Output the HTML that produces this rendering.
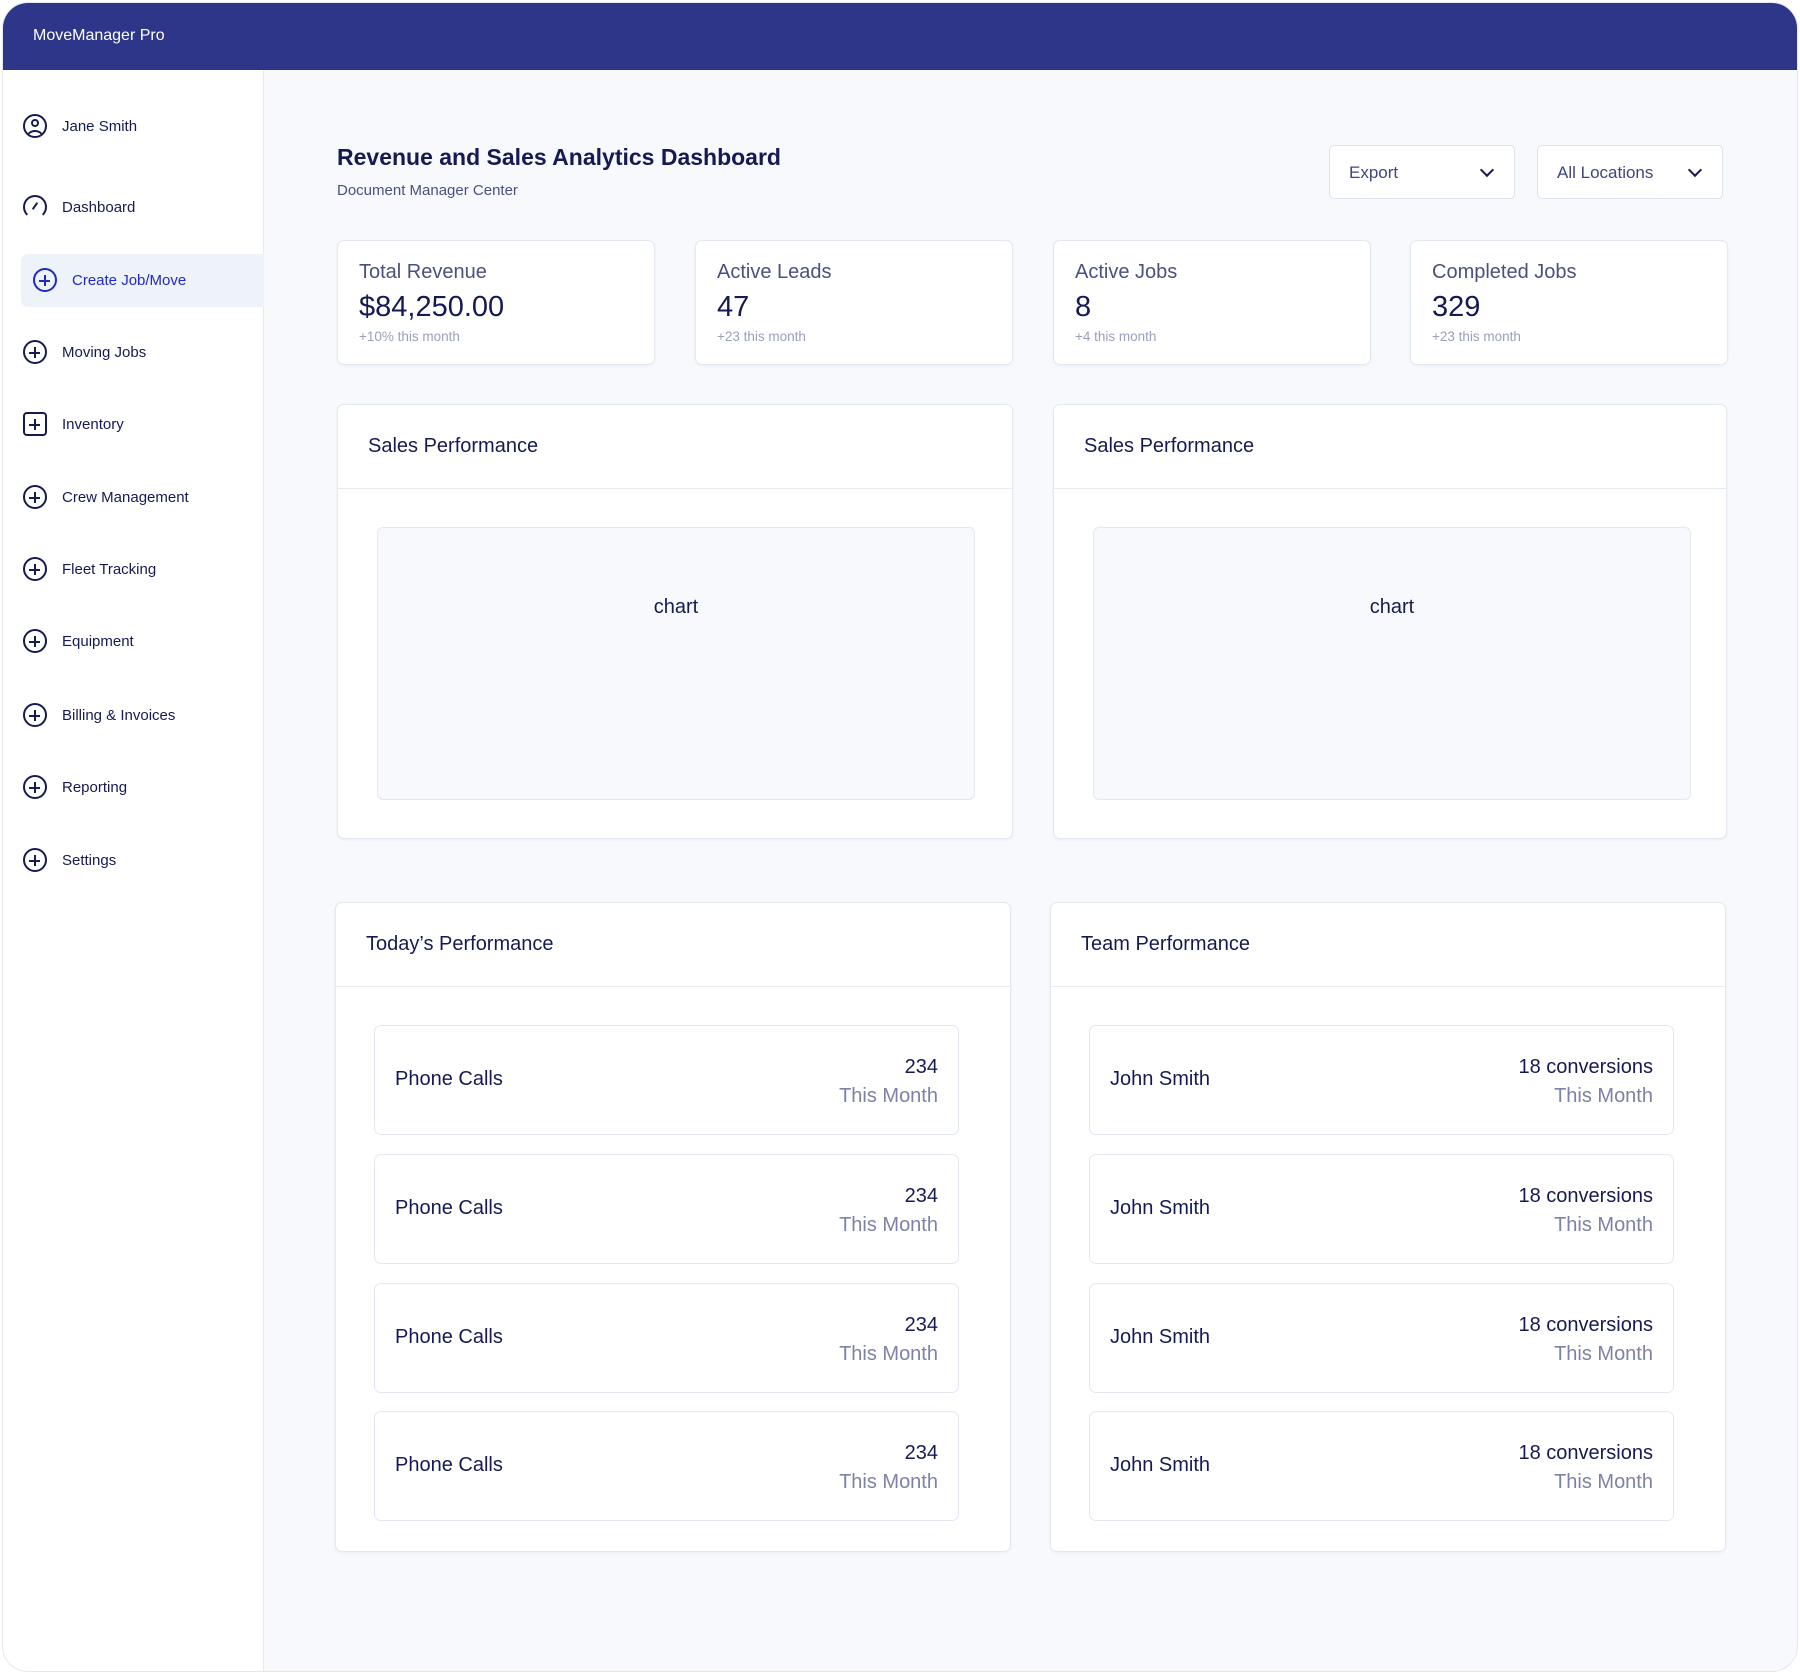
<!DOCTYPE html>
<html><head><meta charset="utf-8"><style>
*{box-sizing:border-box;margin:0;padding:0}
body{width:1800px;height:1674px;background:#fff;font-family:"Liberation Sans",sans-serif;color:#161a52;position:relative;overflow:hidden}
.a{position:absolute}
.frame{left:2px;top:2px;width:1796px;height:1670px;border:1px solid #e3e7ef;border-radius:26px;overflow:hidden;background:#f7f9fc}
.hdr{left:0;top:0;width:1796px;height:67px;background:#2e3689;color:#fff;font-size:16px;padding:24px 0 0 30px}
.side{left:0;top:67px;width:261px;height:1610px;background:#fff;border-right:1px solid #e6eaf1}
.nav{position:absolute;left:20px;font-size:15px;display:flex;align-items:center;height:30px}
.ic{width:24px;height:24px;border:2.3px solid #161a52;border-radius:50%;margin-right:15px;position:relative;flex:none}
.ic.p:before{content:"";position:absolute;left:4px;top:9.5px;width:11px;height:2.2px;background:currentColor}
.ic.p:after{content:"";position:absolute;left:8.5px;top:5px;width:2.2px;height:11px;background:currentColor}
.card{position:absolute;background:#fff;border:1px solid #e3e8f1;border-radius:7px;box-shadow:0 1px 3px rgba(30,40,90,.05)}
.btn{position:absolute;top:145px;height:54px;width:186px;background:#fff;border:1px solid #dde2ec;border-radius:5px;font-size:17px;color:#3f4680;padding:17px 0 0 19px}
.chev{position:absolute;right:22px;top:19px;width:10px;height:10px;border-right:2.4px solid #161a52;border-bottom:2.4px solid #161a52;transform:rotate(45deg)}
.sl{position:absolute;left:21px;top:20px;font-size:20px;color:#4a5080}
.sv{position:absolute;left:21px;top:50px;font-size:29px;color:#161a52}
.ss{position:absolute;left:21px;top:88px;font-size:13.5px;color:#9a9fbd}
.ct{position:absolute;left:30px;top:30px;font-size:20px}
.dv{position:absolute;left:0;right:0;top:83px;border-top:1px solid #e6eaf1}
.cb{position:absolute;left:39px;top:122px;width:598px;height:273px;background:#f7f9fc;border:1px solid #e3e8f1;border-radius:6px;text-align:center;font-size:20px;padding-top:68px}
.row{position:absolute;left:38px;width:585px;height:110px;border:1px solid #e3e8f1;border-radius:7px;background:#fff}
.rl{position:absolute;left:20px;top:42px;font-size:20px}
.rr{position:absolute;right:20px;top:27px;text-align:right;font-size:20px;line-height:29px}
.rr span{color:#7d82a6}
</style></head><body>
<div class="a frame">
<div class="a hdr">MoveManager Pro</div>
<div class="a side">
<div class="nav" style="top:41px"><div class="ic" style="overflow:hidden"><div style="position:absolute;left:6px;top:3px;width:8px;height:8px;border:2px solid #161a52;border-radius:50%"></div><div style="position:absolute;left:2px;top:14px;width:16px;height:12px;border:2px solid #161a52;border-radius:50%"></div></div>Jane Smith</div>
<div class="nav" style="top:122px"><div class="ic" style="border-bottom-color:transparent"><div style="position:absolute;left:9px;top:5px;width:2px;height:8px;background:#161a52;transform:rotate(35deg)"></div></div>Dashboard</div>
<div class="a" style="left:18px;top:184px;width:243px;height:53px;background:#eef2f9;border-radius:7px 0 0 7px"></div>
<div class="nav" style="top:195px;left:30px;color:#2129c4"><div class="ic p" style="border-color:#2129c4;color:#2129c4"></div>Create Job/Move</div>
<div class="nav" style="top:267px"><div class="ic p"></div>Moving Jobs</div>
<div class="nav" style="top:339px"><div class="ic p" style="border-radius:4px"></div>Inventory</div>
<div class="nav" style="top:412px"><div class="ic p"></div>Crew Management</div>
<div class="nav" style="top:484px"><div class="ic p"></div>Fleet Tracking</div>
<div class="nav" style="top:556px"><div class="ic p"></div>Equipment</div>
<div class="nav" style="top:630px"><div class="ic p"></div>Billing &amp; Invoices</div>
<div class="nav" style="top:702px"><div class="ic p"></div>Reporting</div>
<div class="nav" style="top:775px"><div class="ic p"></div>Settings</div>
</div>
</div>
<div class="a" style="left:337px;top:144px;font-size:23px;font-weight:bold;color:#161a52">Revenue and Sales Analytics Dashboard</div>
<div class="a" style="left:337px;top:182px;font-size:15px;color:#4a5080">Document Manager Center</div>
<div class="btn" style="left:1329px">Export<div class="chev"></div></div>
<div class="btn" style="left:1537px">All Locations<div class="chev"></div></div>

<div class="card" style="left:337px;top:240px;width:318px;height:125px"><div class="sl">Total Revenue</div><div class="sv">$84,250.00</div><div class="ss">+10% this month</div></div>
<div class="card" style="left:695px;top:240px;width:318px;height:125px"><div class="sl">Active Leads</div><div class="sv">47</div><div class="ss">+23 this month</div></div>
<div class="card" style="left:1053px;top:240px;width:318px;height:125px"><div class="sl">Active Jobs</div><div class="sv">8</div><div class="ss">+4 this month</div></div>
<div class="card" style="left:1410px;top:240px;width:318px;height:125px"><div class="sl">Completed Jobs</div><div class="sv">329</div><div class="ss">+23 this month</div></div>

<div class="card" style="left:337px;top:404px;width:676px;height:435px"><div class="ct">Sales Performance</div><div class="dv"></div><div class="cb">chart</div></div>
<div class="card" style="left:1053px;top:404px;width:674px;height:435px"><div class="ct">Sales Performance</div><div class="dv"></div><div class="cb">chart</div></div>

<div class="card" style="left:335px;top:902px;width:676px;height:650px"><div class="ct">Today’s Performance</div><div class="dv"></div>
<div class="row" style="top:122px"><div class="rl">Phone Calls</div><div class="rr">234<br><span>This Month</span></div></div>
<div class="row" style="top:251px"><div class="rl">Phone Calls</div><div class="rr">234<br><span>This Month</span></div></div>
<div class="row" style="top:380px"><div class="rl">Phone Calls</div><div class="rr">234<br><span>This Month</span></div></div>
<div class="row" style="top:508px"><div class="rl">Phone Calls</div><div class="rr">234<br><span>This Month</span></div></div>
</div>
<div class="card" style="left:1050px;top:902px;width:676px;height:650px"><div class="ct">Team Performance</div><div class="dv"></div>
<div class="row" style="top:122px"><div class="rl">John Smith</div><div class="rr">18 conversions<br><span>This Month</span></div></div>
<div class="row" style="top:251px"><div class="rl">John Smith</div><div class="rr">18 conversions<br><span>This Month</span></div></div>
<div class="row" style="top:380px"><div class="rl">John Smith</div><div class="rr">18 conversions<br><span>This Month</span></div></div>
<div class="row" style="top:508px"><div class="rl">John Smith</div><div class="rr">18 conversions<br><span>This Month</span></div></div>
</div>
</body></html>
